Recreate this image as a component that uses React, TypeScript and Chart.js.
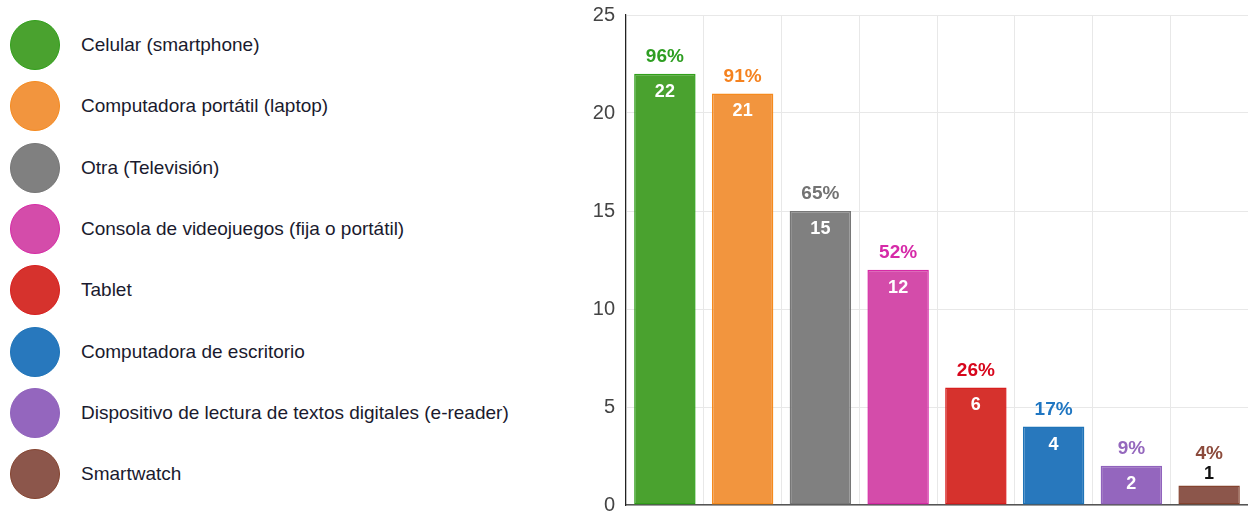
import React, { useEffect, useRef } from "react";
import { Chart, registerables } from "chart.js";

Chart.register(...registerables);

const categories = [
  "Celular (smartphone)",
  "Computadora portátil (laptop)",
  "Otra (Televisión)",
  "Consola de videojuegos (fija o portátil)",
  "Tablet",
  "Computadora de escritorio",
  "Dispositivo de lectura de textos digitales (e-reader)",
  "Smartwatch",
];
const counts = [22, 21, 15, 12, 6, 4, 2, 1];
const percentLabels = ["96%", "91%", "65%", "52%", "26%", "17%", "9%", "4%"];
const fillColors = ["#4AA22F", "#F2953E", "#808080", "#D44CAA", "#D6322D", "#2878BD", "#9466BE", "#8C564B"];
const borderColors = ["#31A01A", "#F58A1E", "#777777", "#D62AA6", "#D81E1E", "#1F74B8", "#9063BC", "#84432F"];
const labelColors = ["#2E9E22", "#F5821F", "#737373", "#D62AA8", "#D7061C", "#1F76C2", "#9467BD", "#8C4B3C"];
const yTicks = [0, 5, 10, 15, 20, 25];

const FONT = '"Liberation Sans", Arial, Helvetica, sans-serif';

const labelPlugin = {
  id: "barLabels",
  afterDatasetsDraw(chart: any) {
    const ctx = chart.ctx;
    const meta = chart.getDatasetMeta(0);
    ctx.save();
    ctx.textAlign = "center";
    ctx.textBaseline = "middle";
    meta.data.forEach((bar: any, i: number) => {
      const top = bar.y;
      const height = bar.base - bar.y;
      if (height >= 30) {
        ctx.font = `bold 19px ${FONT}`;
        ctx.fillStyle = labelColors[i];
        ctx.fillText(percentLabels[i], bar.x, top - 17);
        ctx.font = `bold 18px ${FONT}`;
        ctx.fillStyle = "#ffffff";
        ctx.fillText(String(counts[i]), bar.x, top + 18);
      } else {
        ctx.font = `bold 18px ${FONT}`;
        ctx.fillStyle = "#111111";
        ctx.fillText(String(counts[i]), bar.x, top - 11);
        ctx.font = `bold 19px ${FONT}`;
        ctx.fillStyle = labelColors[i];
        ctx.fillText(percentLabels[i], bar.x, top - 32);
      }
    });
    ctx.restore();
  },
};

function BarChart() {
  const ref = useRef<HTMLCanvasElement | null>(null);
  useEffect(() => {
    if (!ref.current) return;
    const chart = new Chart(ref.current, {
      type: "bar",
      data: {
        labels: categories,
        datasets: [
          {
            data: counts,
            backgroundColor: fillColors,
            borderColor: borderColors,
            borderWidth: 1.5,
            borderSkipped: false,
            barPercentage: 0.79,
            categoryPercentage: 1,
          },
        ],
      },
      options: {
        animation: false,
        responsive: false,
        maintainAspectRatio: false,
        layout: { autoPadding: false, padding: { top: 15, bottom: 7, right: 0, left: 0 } },
        plugins: {
          legend: { display: false },
          tooltip: { enabled: false },
        },
        scales: {
          x: {
            ticks: { display: false },
            grid: { color: "#e8e8e8", drawTicks: false, offset: true },
            border: { color: "#555555", width: 1.5 },
            afterFit: (scale: any) => {
              scale.height = 0;
              scale.paddingLeft = 0;
              scale.paddingRight = 0;
              scale.paddingTop = 0;
              scale.paddingBottom = 0;
            },
          },
          y: {
            min: 0,
            max: 25,
            afterBuildTicks: (scale: any) => {
              scale.ticks = yTicks.map((v) => ({ value: v }));
            },
            afterFit: (scale: any) => {
              scale.width = 66;
              scale.paddingTop = 0;
              scale.paddingBottom = 0;
              scale.paddingLeft = 0;
              scale.paddingRight = 0;
            },
            ticks: {
              color: "#444444",
              font: { family: FONT, size: 20 },
              padding: 11,
            },
            grid: { color: "#e8e8e8", drawTicks: false },
            border: { color: "#222222", width: 1.2 },
          },
        },
      },
      plugins: [labelPlugin],
    });
    return () => chart.destroy();
  }, []);
  return <canvas ref={ref} width={688} height={512} style={{ position: "absolute", left: 560, top: 0, width: 688, height: 512 }} />;
}

export default function App() {
  return (
    <div style={{ position: "fixed", left: 0, top: 0, width: 1248, height: 512, background: "#ffffff", overflow: "hidden" }}>
      {categories.map((c, i) => (
        <div key={c} style={{ position: "absolute", left: 0, top: 45 + i * 61.3 - 25, height: 50 }}>
          <div style={{ position: "absolute", left: 10, top: 0, width: 50, height: 50, borderRadius: "50%", background: fillColors[i], boxSizing: "border-box", border: `1px solid ${borderColors[i]}` }} />
          <span style={{ position: "absolute", left: 81, top: 0, lineHeight: "50px", whiteSpace: "nowrap", fontFamily: FONT, fontSize: 19, color: "#1a1a2e" }}>{c}</span>
        </div>
      ))}
      <BarChart />
    </div>
  );
}
